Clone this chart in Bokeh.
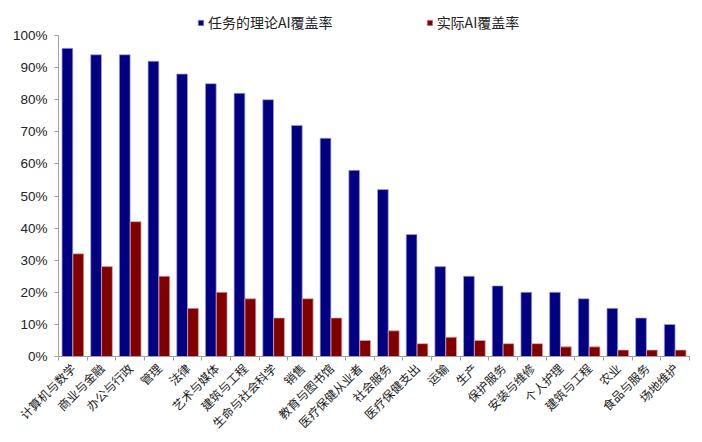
from bokeh.plotting import figure
from bokeh.models import (ColumnDataSource, Range1d, FixedTicker, NumeralTickFormatter,
                          Legend, LegendItem)
from bokeh.transform import dodge
from bokeh.embed import file_html
from bokeh.resources import INLINE

categories = ["计算机与数学", "商业与金融", "办公与行政", "管理", "法律", "艺术与媒体",
              "建筑与工程", "生命与社会科学", "销售", "教育与图书馆", "医疗保健从业者",
              "社会服务", "医疗保健支出", "运输", "生产", "保护服务", "安装与维修",
              "个人护理", "建筑与工程", "农业", "食品与服务", "场地维护"]
theoretical = [96, 94, 94, 92, 88, 85, 82, 80, 72, 68, 58, 52, 38, 28, 25, 22, 20, 20, 18, 15, 12, 10]
actual = [32, 28, 42, 25, 15, 20, 18, 12, 18, 12, 5, 8, 4, 6, 5, 4, 4, 3, 3, 2, 2, 2]
series_names = ["任务的理论AI覆盖率", "实际AI覆盖率"]
y_ticks = [0.0, 0.1, 0.2, 0.3, 0.4, 0.5, 0.6, 0.7, 0.8, 0.9, 1.0]

n = len(categories)
src = ColumnDataSource(dict(
    x=list(range(n)),
    t=[v / 100 for v in theoretical],
    a=[v / 100 for v in actual],
))

p = figure(width=700, height=440, output_backend="svg", toolbar_location=None,
           x_range=Range1d(-0.5, n - 0.5), y_range=Range1d(0, 1.0717),
           min_border_left=58, min_border_right=11, min_border_top=12, min_border_bottom=84)
p.outline_line_color = None
p.xgrid.visible = False
p.ygrid.visible = False

bw = 0.375
r1 = p.vbar(x=dodge("x", -0.19, range=p.x_range), top="t", width=bw, source=src,
            fill_color="#000080", line_color="#a8a8d8", line_width=0.7)
r2 = p.vbar(x=dodge("x", 0.19, range=p.x_range), top="a", width=bw, source=src,
            fill_color="#800000", line_color="#d8a8a8", line_width=0.7)

# y axis
ya = p.yaxis[0]
ya.ticker = FixedTicker(ticks=y_ticks)
ya.bounds = (0, 1.0)
ya.formatter = NumeralTickFormatter(format="0%")
ya.axis_line_color = "#a0a0a0"
ya.major_tick_line_color = "#a0a0a0"
ya.major_tick_out = 4
ya.major_tick_in = 0
ya.minor_tick_line_color = None
ya.major_label_text_font = "Liberation Sans"
ya.major_label_text_font_size = "13.5px"
ya.major_label_text_color = "#222222"
ya.major_label_standoff = 7

# x axis
xa = p.xaxis[0]
xa.ticker = FixedTicker(ticks=list(range(n)), minor_ticks=[i - 0.5 for i in range(n + 1)])
xa.major_label_overrides = {i: c for i, c in enumerate(categories)}
xa.axis_line_color = "#a0a0a0"
xa.major_tick_line_color = None
xa.major_tick_out = 0
xa.major_tick_in = 0
xa.minor_tick_line_color = "#a0a0a0"
xa.minor_tick_out = 4
xa.minor_tick_in = 0
xa.major_label_orientation = 0.785398
xa.major_label_text_font = "Noto Sans CJK SC"
xa.major_label_text_font_size = "12px"
xa.major_label_text_color = "#1a1a1a"
xa.major_label_standoff = 5

legend = Legend(items=[LegendItem(label=series_names[0], renderers=[r1]),
                       LegendItem(label=series_names[1], renderers=[r2])],
                orientation="horizontal", location=(139, 324),
                glyph_width=7, glyph_height=7, label_standoff=4, spacing=93,
                padding=0, margin=0, border_line_color=None, background_fill_alpha=0,
                label_text_font="Noto Sans CJK SC", label_text_font_size="14px",
                label_text_color="#222222", label_height=16)
p.add_layout(legend, "center")

open("out.html", "w").write(file_html(p, INLINE))
